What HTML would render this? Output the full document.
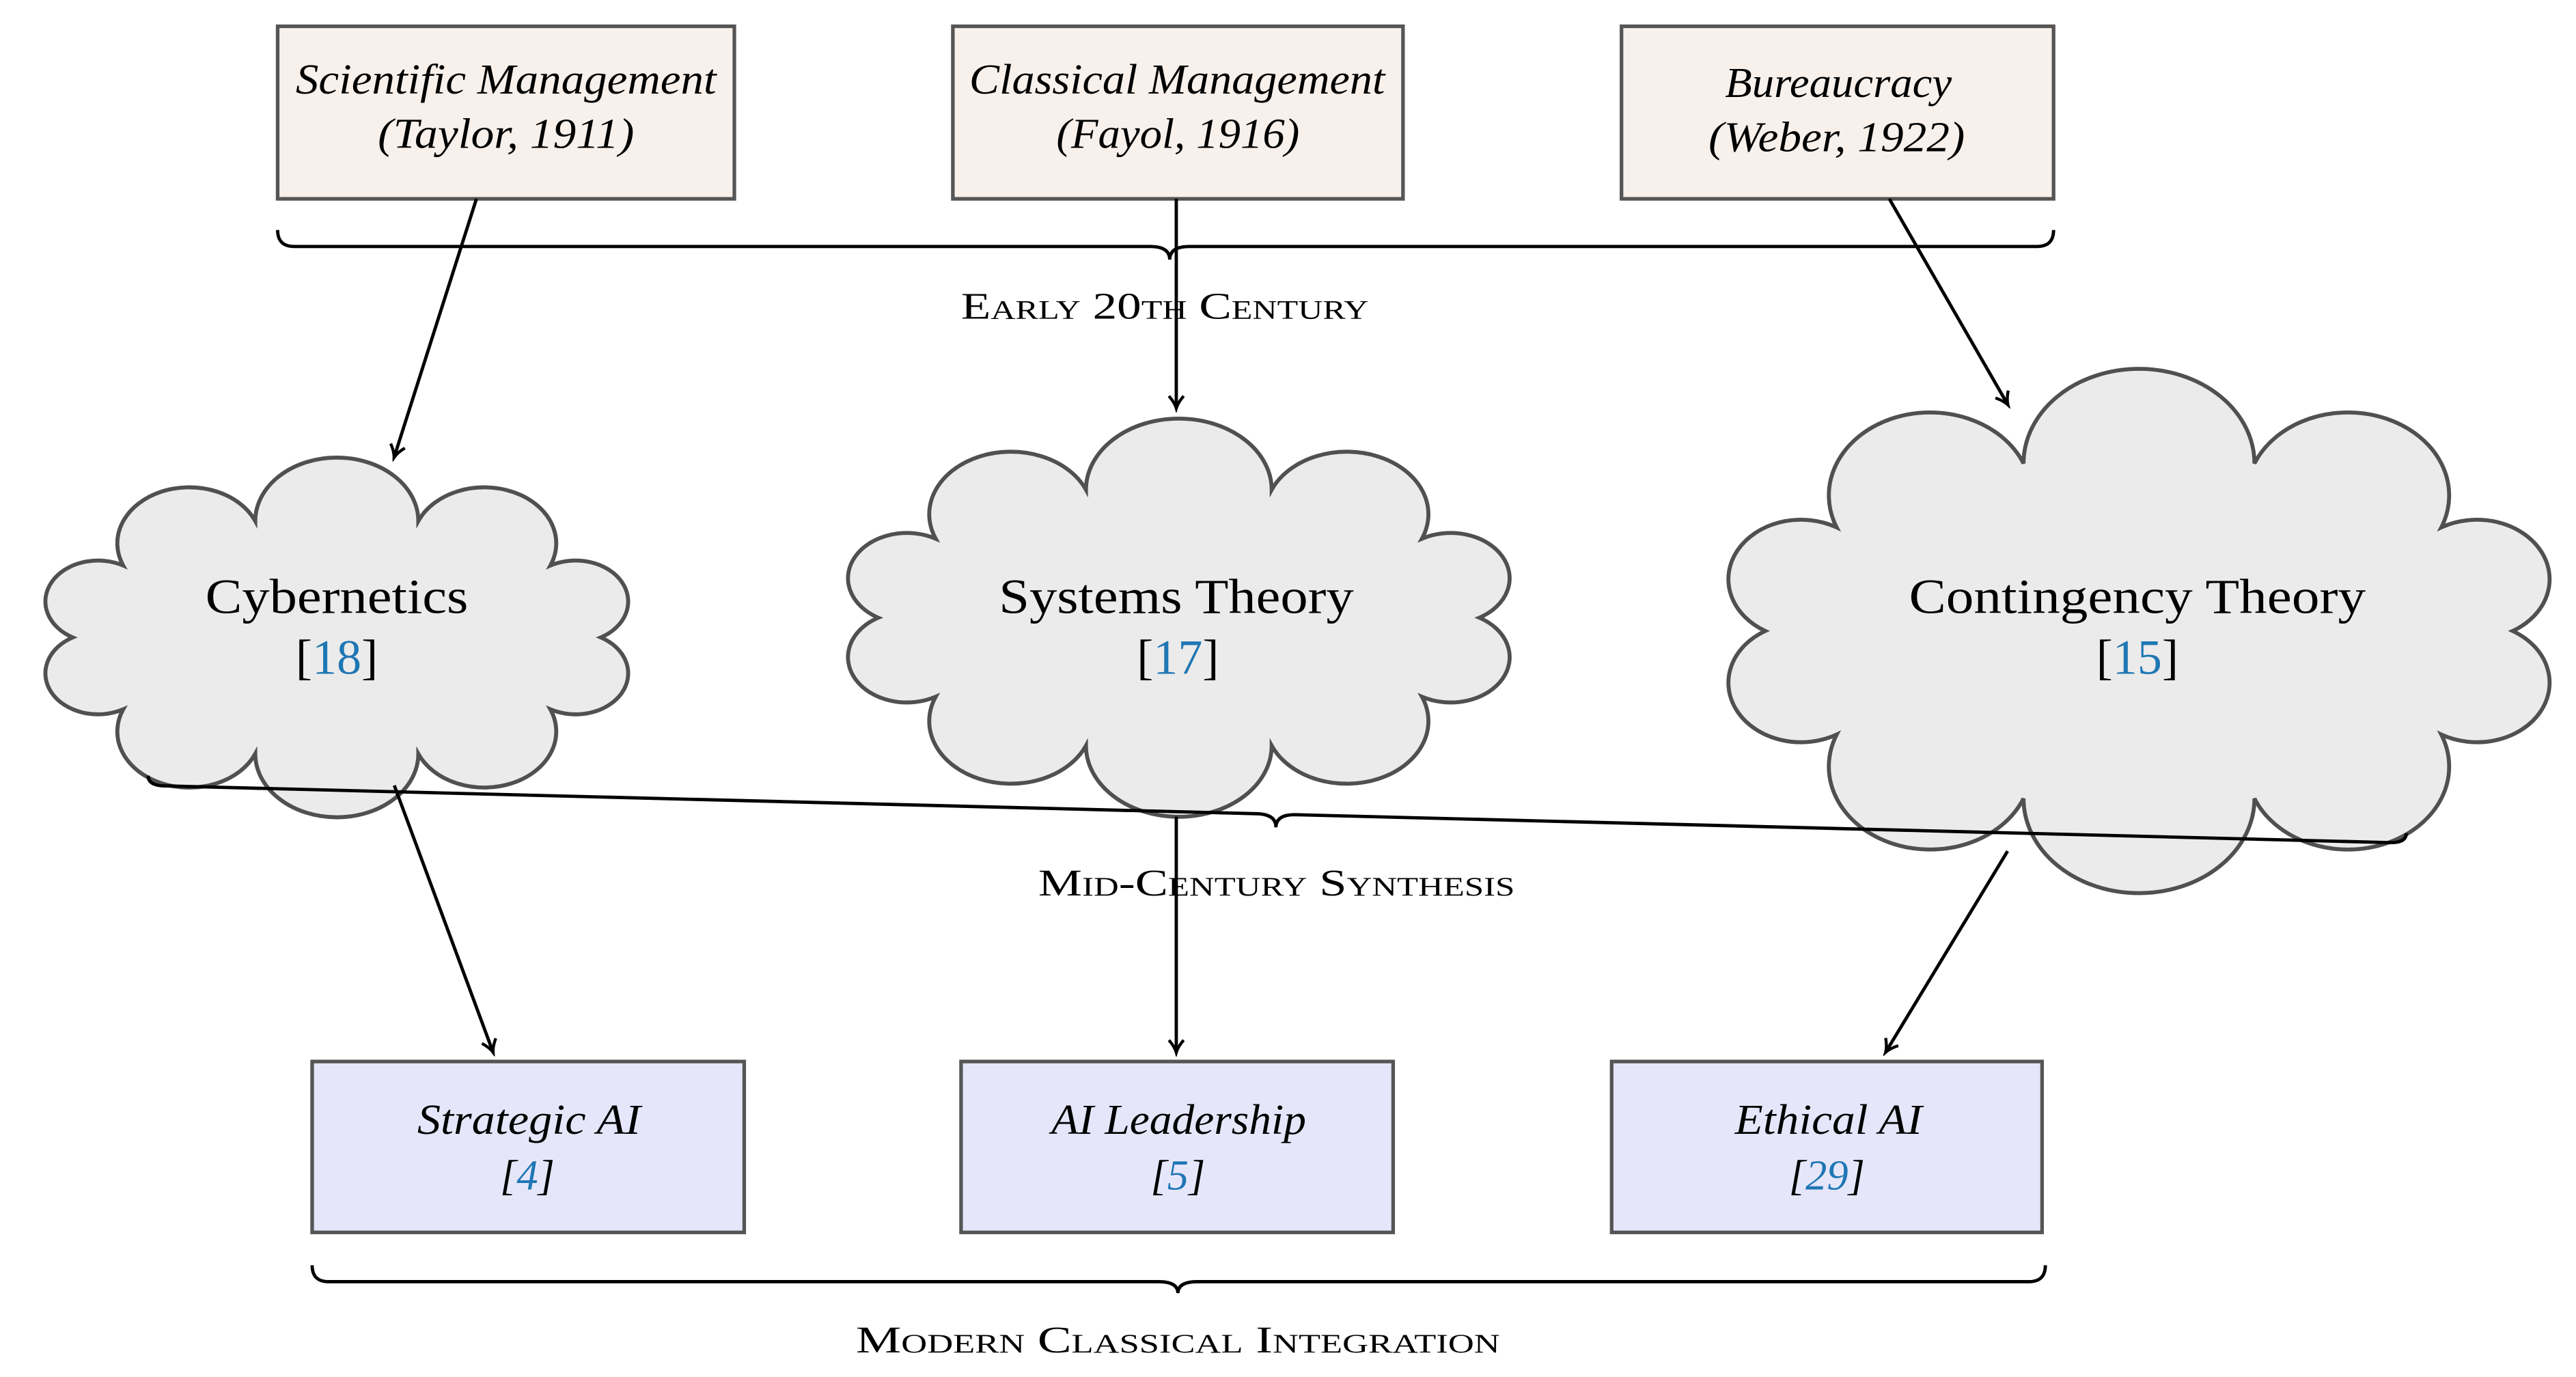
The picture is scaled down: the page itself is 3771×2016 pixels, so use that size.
<!DOCTYPE html>
<html><head><meta charset="utf-8"><style>
html,body{margin:0;padding:0;background:#fff;}
svg{display:block;}
text{font-family:"Liberation Serif",serif;fill:#000;}
.it{font-style:italic;font-size:26px;}
.cl{font-size:30px;}
.sc{font-variant:small-caps;font-size:23px;}
.ref{fill:#1f77b4;}
</style></head><body>
<svg width="3771" height="2016" viewBox="0 0 1568 838" preserveAspectRatio="none" xmlns="http://www.w3.org/2000/svg">
<defs>
<marker id="ah" markerWidth="12" markerHeight="12" refX="9" refY="6" orient="auto" markerUnits="userSpaceOnUse">
<path d="M2,1.5 Q6,5 9.5,6 Q6,7 2,10.5" fill="none" stroke="#000" stroke-width="1.8"/>
</marker>
</defs>
<g fill="#ebebeb" stroke="#505050" stroke-width="5.8">
<path vector-effect="non-scaling-stroke" transform="translate(205,387.5) scale(1.086,0.846) translate(-205,-386.5)" d="M250.7,303.3 A1,1 0 0 1 324.7,335.3 A1,1 0 0 1 353,387 A1,1 0 0 1 324.7,438.7 A1,1 0 0 1 250.7,470.7 A1,1 0 0 1 159.3,470.7 A1,1 0 0 1 85.3,438.7 A1,1 0 0 1 57,387 A1,1 0 0 1 85.3,335.3 A1,1 0 0 1 159.3,303.3 A1,1 0 0 1 250.7,303.3 Z"/>
<path vector-effect="non-scaling-stroke" transform="translate(717,375.5) scale(1.089,0.835) translate(-716.5,-375.5)" d="M768.9,282.8 A1,1 0 0 1 852.9,318.4 A1,1 0 0 1 885,376 A1,1 0 0 1 852.9,433.6 A1,1 0 0 1 768.9,469.2 A1,1 0 0 1 665.1,469.2 A1,1 0 0 1 581.1,433.6 A1,1 0 0 1 549,376 A1,1 0 0 1 581.1,318.4 A1,1 0 0 1 665.1,282.8 A1,1 0 0 1 768.9,282.8 Z"/>
<path vector-effect="non-scaling-stroke" transform="translate(1302,384) scale(1.073,0.879) translate(-1302,-384)" d="M1367.5,268 A1,1 0 0 1 1473.5,312.3 A1,1 0 0 1 1514,384 A1,1 0 0 1 1473.5,455.7 A1,1 0 0 1 1367.5,500 A1,1 0 0 1 1236.5,500 A1,1 0 0 1 1130.5,455.7 A1,1 0 0 1 1090,384 A1,1 0 0 1 1130.5,312.3 A1,1 0 0 1 1236.5,268 A1,1 0 0 1 1367.5,268 Z"/>
</g>

<!-- top boxes -->
<g fill="#f7f0eb" stroke="#555" stroke-width="2.2">
<rect x="169" y="16" width="278" height="105"/>
<rect x="580" y="16" width="274" height="105"/>
<rect x="987" y="16" width="263" height="105"/>
</g>
<text class="it" x="180" y="57" textLength="256" lengthAdjust="spacingAndGlyphs">Scientific Management</text>
<text class="it" x="230" y="90" textLength="156" lengthAdjust="spacingAndGlyphs">(Taylor, 1911)</text>
<text class="it" x="590" y="57" textLength="253" lengthAdjust="spacingAndGlyphs">Classical Management</text>
<text class="it" x="643" y="90" textLength="148" lengthAdjust="spacingAndGlyphs">(Fayol, 1916)</text>
<text class="it" x="1050" y="59" textLength="138" lengthAdjust="spacingAndGlyphs">Bureaucracy</text>
<text class="it" x="1040" y="92" textLength="156" lengthAdjust="spacingAndGlyphs">(Weber, 1922)</text>

<!-- top brace -->
<path d="M169,140 q0,10 10,10 H700 q12,0 12,8 q0,-8 12,-8 H1240 q10,0 10,-10" fill="none" stroke="#000" stroke-width="2"/>
<text class="sc" x="585" y="194" textLength="248" lengthAdjust="spacingAndGlyphs">Early 20th Century</text>

<!-- arrows top -->
<g stroke="#000" stroke-width="2" fill="none" marker-end="url(#ah)">
<line x1="290" y1="121" x2="240" y2="278"/>
<line x1="716" y1="121" x2="716" y2="248"/>
<line x1="1150" y1="121" x2="1222" y2="246"/>
</g>

<!-- cloud text -->
<text class="cl" x="125" y="373" textLength="160" lengthAdjust="spacingAndGlyphs">Cybernetics</text>
<text class="cl" x="205" y="410" text-anchor="middle">[<tspan class="ref">18</tspan>]</text>
<text class="cl" x="608" y="373" textLength="216" lengthAdjust="spacingAndGlyphs">Systems Theory</text>
<text class="cl" x="717" y="410" text-anchor="middle">[<tspan class="ref">17</tspan>]</text>
<text class="cl" x="1162" y="373" textLength="278" lengthAdjust="spacingAndGlyphs">Contingency Theory</text>
<text class="cl" x="1301" y="410" text-anchor="middle">[<tspan class="ref">15</tspan>]</text>

<!-- middle brace (slanted) -->
<g transform="translate(90,480) rotate(1.46)">
<path d="M0,-8 q0,6 10,6 H675 q12,0 12,8 q0,-8 12,-8 H1365 q10,0 10,-6" fill="none" stroke="#000" stroke-width="2"/>
</g>
<text class="sc" x="632" y="545" textLength="290" lengthAdjust="spacingAndGlyphs">Mid-Century Synthesis</text>

<!-- arrows bottom -->
<g stroke="#000" stroke-width="2" fill="none" marker-end="url(#ah)">
<line x1="240" y1="478" x2="300" y2="640"/>
<line x1="716" y1="497" x2="716" y2="640"/>
<line x1="1222" y1="518" x2="1148" y2="640"/>
</g>

<!-- bottom boxes -->
<g fill="#e6e6fa" stroke="#555" stroke-width="2.2">
<rect x="190" y="646" width="263" height="104"/>
<rect x="585" y="646" width="263" height="104"/>
<rect x="981" y="646" width="262" height="104"/>
</g>
<text class="it" x="254" y="690" textLength="136" lengthAdjust="spacingAndGlyphs">Strategic AI</text>
<text class="it" x="321" y="724" text-anchor="middle">[<tspan class="ref">4</tspan>]</text>
<text class="it" x="640" y="690" textLength="155" lengthAdjust="spacingAndGlyphs">AI Leadership</text>
<text class="it" x="717" y="724" text-anchor="middle">[<tspan class="ref">5</tspan>]</text>
<text class="it" x="1056" y="690" textLength="114" lengthAdjust="spacingAndGlyphs">Ethical AI</text>
<text class="it" x="1112" y="724" text-anchor="middle">[<tspan class="ref">29</tspan>]</text>

<!-- bottom brace -->
<path d="M190,770 q0,10 10,10 H705 q12,0 12,7 q0,-7 12,-7 H1235 q10,0 10,-10" fill="none" stroke="#000" stroke-width="2"/>
<text class="sc" x="521" y="823" textLength="392" lengthAdjust="spacingAndGlyphs">Modern Classical Integration</text>
</svg>
</body></html>
